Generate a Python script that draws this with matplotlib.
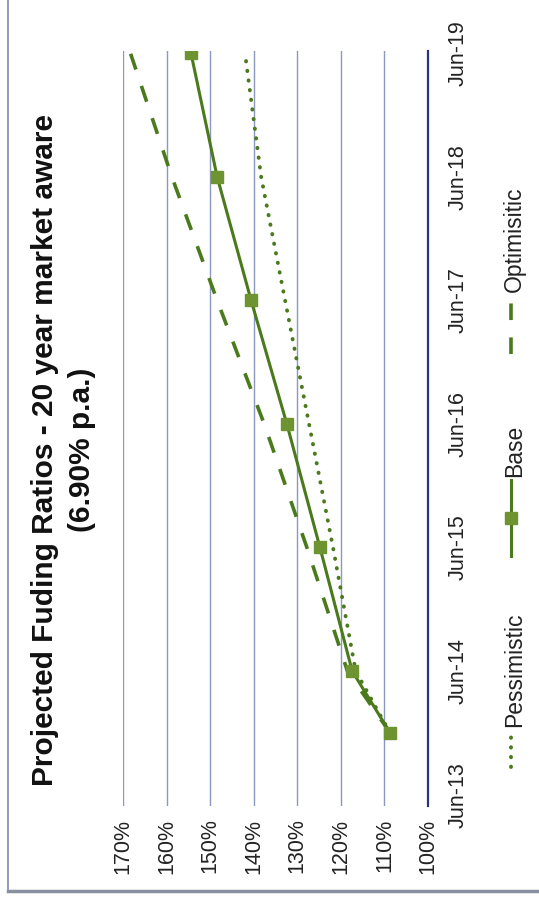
import matplotlib
matplotlib.use("Agg")
import matplotlib.pyplot as plt
from matplotlib.lines import Line2D

plt.rcParams['font.family'] = ['Liberation Sans', 'DejaVu Sans']

# data (years after Jun-13, funding ratio in %)
years = [0.5, 1, 2, 3, 4, 5, 6]
base = [108.7, 117.4, 124.8, 132.4, 140.6, 148.4, 154.4]
pessimistic = [108.7, 116.6, 121.8, 127.3, 132.8, 138.3, 142.0]
optimistic = [108.7, 118.5, 127.8, 137.6, 148.4, 158.8, 168.3]

date_ticks = [0, 1, 2, 3, 4, 5, 6]
date_labels = ['Jun-13', 'Jun-14', 'Jun-15', 'Jun-16', 'Jun-17', 'Jun-18', 'Jun-19']
pct_ticks = [100, 110, 120, 130, 140, 150, 160, 170]
pct_labels = ['100%', '110%', '120%', '130%', '140%', '150%', '160%', '170%']

W, H = 539, 899
fig = plt.figure(figsize=(W / 100, H / 100), dpi=100)

def fx(px):
    return px / W

def fy(py):
    return 1 - py / H

line_col = '#4b7a1c'
mark_col = '#6d9430'
dots = (0, (0.1, 2.4))
dashes = (0, (4.6, 4.8))

# chart is turned a quarter turn: percentages run right-to-left, dates bottom-to-top
ax = fig.add_axes([fx(123), fy(806), fx(428) - fx(123), fy(51) - fy(806)])
ax.set_xlim(170, 100)
ax.set_ylim(-0.092, 6.017)

ax.plot(pessimistic, years, color=line_col, lw=2.8,
        linestyle=dots, dash_capstyle='round', zorder=3)
ax.plot(optimistic, years, color=line_col, lw=2.6,
        linestyle=dashes, zorder=3)
ax.plot(base, years, color=line_col, lw=2.2, marker='s', markersize=9,
        markerfacecolor=mark_col, markeredgecolor=mark_col, zorder=4)

ax.set_xticks(pct_ticks)
ax.set_xticklabels(pct_labels, rotation=90, fontsize=15.5, color='#222222')
ax.tick_params(axis='x', length=0, pad=9)
ax.yaxis.tick_right()
ax.set_yticks(date_ticks)
ax.set_yticklabels(date_labels, rotation=90, fontsize=15.5, color='#222222', va='center')
ax.tick_params(axis='y', length=0, pad=14)

ax.grid(axis='x', color='#8c98c0', lw=1.0)
ax.set_axisbelow(True)
for side in ['left', 'top', 'bottom']:
    ax.spines[side].set_visible(False)
ax.spines['right'].set_color('#27357a')
ax.spines['right'].set_linewidth(1.6)

# title
fig.text(fx(53), fy(450), 'Projected Fuding Ratios - 20 year market aware',
         rotation=90, rotation_mode='anchor', ha='center', va='baseline',
         fontsize=21.5, fontweight='bold', color='#111111')
fig.text(fx(90), fy(450), '(6.90% p.a.)',
         rotation=90, rotation_mode='anchor', ha='center', va='baseline',
         fontsize=21.5, fontweight='bold', color='#111111')

# legend, drawn by hand because it is turned as well
lx = fx(511)
fig.add_artist(Line2D([lx, lx], [fy(767), fy(733)], transform=fig.transFigure,
                      color=line_col, lw=2.8, linestyle=dots,
                      dash_capstyle='round'))
fig.text(fx(521), fy(727), 'Pessimistic', rotation=90, rotation_mode='anchor',
         ha='left', va='baseline', fontsize=16.5, color='#222222')

fig.add_artist(Line2D([lx, lx], [fy(556), fy(480)], transform=fig.transFigure,
                      color=line_col, lw=2.2))
fig.add_artist(Line2D([lx], [fy(518)], transform=fig.transFigure, marker='s',
                      markersize=9, color=mark_col, lw=0))
fig.text(fx(521), fy(477), 'Base', rotation=90, rotation_mode='anchor',
         ha='left', va='baseline', fontsize=16.5, color='#222222')

fig.add_artist(Line2D([lx, lx], [fy(354), fy(298)], transform=fig.transFigure,
                      color=line_col, lw=2.6, linestyle=dashes))
fig.text(fx(521), fy(292), 'Optimisitic', rotation=90, rotation_mode='anchor',
         ha='left', va='baseline', fontsize=16.5, color='#222222')

# frame of the scanned chart
fig.add_artist(Line2D([fx(8), fx(8)], [fy(0), fy(891)], transform=fig.transFigure,
                      color='#7f8ab0', lw=1.2))
fig.add_artist(Line2D([fx(8), fx(539)], [fy(891), fy(891)], transform=fig.transFigure,
                      color='#8a8f9f', lw=2.5))

fig.savefig('out.png', dpi=100)
